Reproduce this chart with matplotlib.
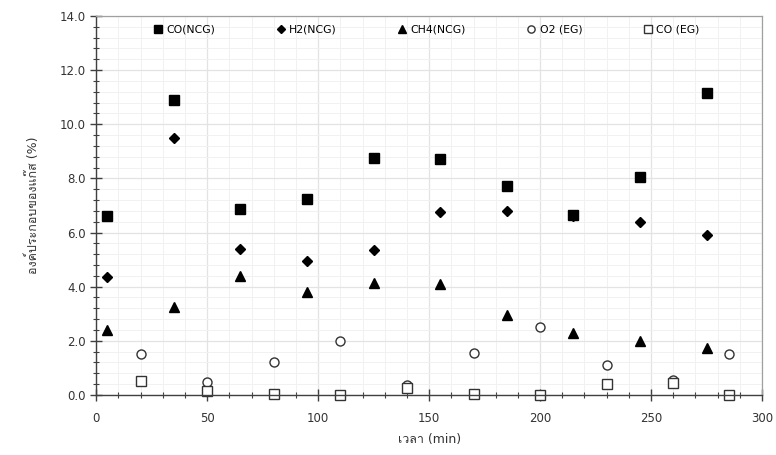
import matplotlib
matplotlib.use("Agg")
import matplotlib.pyplot as plt
from matplotlib import font_manager
from matplotlib.ft2font import FT2Font
from matplotlib.ticker import MultipleLocator, FormatStrFormatter

# data
t_ncg = [5, 35, 65, 95, 125, 155, 185, 215, 245, 275]
co_ncg = [6.6, 10.9, 6.85, 7.25, 8.75, 8.7, 7.7, 6.65, 8.05, 11.15]
h2_ncg = [4.35, 9.5, 5.4, 4.95, 5.35, 6.75, 6.8, 6.6, 6.4, 5.9]
ch4_ncg = [2.4, 3.25, 4.4, 3.8, 4.15, 4.1, 2.95, 2.3, 2.0, 1.75]

t_eg = [20, 50, 80, 110, 140, 170, 200, 230, 260, 285]
o2_eg = [1.53, 0.46, 1.22, 2.0, 0.35, 1.55, 2.5, 1.12, 0.55, 1.51]
co_eg = [0.5, 0.15, 0.05, 0.0, 0.25, 0.05, 0.0, 0.41, 0.45, 0.0]


def find_thai_family():
    # look for any installed font that has Thai glyphs
    for f in font_manager.fontManager.ttflist:
        try:
            cmap = FT2Font(f.fname).get_charmap()
        except Exception:
            continue
        if all(ord(c) in cmap for c in 'องค์ประกอบแก๊สเวลา'):
            return f.name
    return None


families = ['DejaVu Sans']
thai = find_thai_family()
if thai:
    families.append(thai)
plt.rcParams['font.family'] = families

fig = plt.figure(figsize=(7.76, 4.55), dpi=100)
ax = fig.add_axes([0.124, 0.132, 0.858, 0.833])

ax.plot(t_ncg, co_ncg, 's', color='black', ms=6.5, label='CO(NCG)', clip_on=False)
ax.plot(t_ncg, h2_ncg, 'D', color='black', ms=5, label='H2(NCG)', clip_on=False)
ax.plot(t_ncg, ch4_ncg, '^', color='black', ms=7, label='CH4(NCG)', clip_on=False)
ax.plot(t_eg, o2_eg, 'o', mfc='white', mec='#333333', mew=1, ms=6.5, label='O2 (EG)', clip_on=False)
ax.plot(t_eg, co_eg, 's', mfc='white', mec='#333333', mew=1, ms=6.5, label='CO (EG)', clip_on=False)

ax.set_xlim(0, 300)
ax.set_ylim(0, 14)
ax.xaxis.set_major_locator(MultipleLocator(50))
ax.xaxis.set_minor_locator(MultipleLocator(10))
ax.yaxis.set_major_locator(MultipleLocator(2))
ax.yaxis.set_minor_locator(MultipleLocator(0.4))
ax.yaxis.set_major_formatter(FormatStrFormatter('%.1f'))

ax.grid(True, which='major', color='#e3e3e3', lw=0.9)
ax.grid(True, which='minor', color='#f1f1f1', lw=0.7)
ax.set_axisbelow(True)

for s in ['top', 'right']:
    ax.spines[s].set_color('#a0a0a0')
    ax.spines[s].set_linewidth(0.9)
for s in ['left', 'bottom']:
    ax.spines[s].set_color('#404040')
    ax.spines[s].set_linewidth(1.0)

ax.tick_params(which='major', direction='inout', length=8, width=1, color='#404040',
               labelsize=8.5, labelcolor='#333333')
ax.tick_params(which='minor', direction='inout', length=4, width=0.8, color='#404040')
ax.tick_params(axis='x', pad=8)

ax.set_xlabel('เวลา (min)', fontsize=9, color='#333333', labelpad=6)
ax.set_ylabel('องค์ประกอบของแก๊ส (%)', fontsize=9, color='#333333', labelpad=14)

ax.legend(loc='upper center', ncol=5, frameon=False, fontsize=7.8, handletextpad=0.2,
          columnspacing=5.5, bbox_to_anchor=(0.495, 1.0), borderaxespad=0.4, handlelength=1.1,
          markerscale=0.8)

fig.savefig('out.png', dpi=100)
